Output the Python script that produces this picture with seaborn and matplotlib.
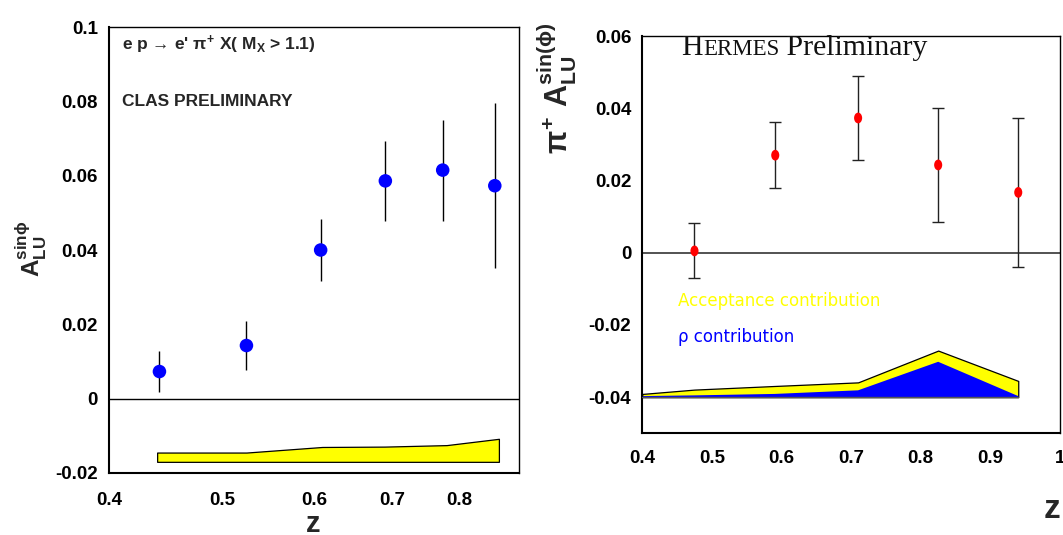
import numpy as np
import pandas as pd
import matplotlib
matplotlib.use("Agg")
import matplotlib.pyplot as plt
import seaborn as sns
from matplotlib.ticker import FixedLocator, MultipleLocator, NullLocator, NullFormatter
from matplotlib.path import Path
from matplotlib.transforms import Affine2D, offset_copy

# ---------------- data ----------------
# CLAS (left panel)
clas_z = [0.442, 0.525, 0.608, 0.691, 0.774, 0.858]
clas_a = [0.0073, 0.0143, 0.0400, 0.0586, 0.0615, 0.0573]
clas_err = [0.0055, 0.0067, 0.0084, 0.0107, 0.0136, 0.0222]
clas_sys_z = [0.44, 0.525, 0.61, 0.69, 0.78, 0.865]
clas_sys_top = [-0.0145, -0.0145, -0.0130, -0.0129, -0.0125, -0.0108]
clas_sys_bottom = -0.0170
clas_xticks = [0.4, 0.5, 0.6, 0.7, 0.8]
clas_xticklabels = ["0.4", "0.5", "0.6", "0.7", "0.8"]
clas_yticks = [-0.02, 0.0, 0.02, 0.04, 0.06, 0.08, 0.1]
clas_yticklabels = ["-0.02", "0", "0.02", "0.04", "0.06", "0.08", "0.1"]

# HERMES (right panel)
hermes_z = [0.475, 0.591, 0.710, 0.825, 0.940]
hermes_a = [0.0005, 0.0270, 0.0373, 0.0243, 0.0167]
hermes_err = [0.0076, 0.0091, 0.0116, 0.0159, 0.0206]
band_z = [0.40, 0.475, 0.59, 0.71, 0.825, 0.94]
rho_top = [-0.0397, -0.0395, -0.0391, -0.0381, -0.0302, -0.0397]
acc_top = [-0.0391, -0.0379, -0.0369, -0.0359, -0.0271, -0.0355]
band_base = -0.040
hermes_xticks = [0.4, 0.5, 0.6, 0.7, 0.8, 0.9, 1.0]
hermes_xticklabels = ["0.4", "0.5", "0.6", "0.7", "0.8", "0.9", "1"]
hermes_yticks = [-0.04, -0.02, 0.0, 0.02, 0.04, 0.06]
hermes_yticklabels = ["-0.04", "-0.02", "0", "0.02", "0.04", "0.06"]

# ---------------- style ----------------
sns.set_style("white")
plt.rcParams['font.family'] = ['Liberation Sans', 'DejaVu Sans']
plt.rcParams['font.weight'] = 'bold'
plt.rcParams['mathtext.fontset'] = 'custom'
plt.rcParams['mathtext.rm'] = 'Liberation Sans:bold'
plt.rcParams['mathtext.bf'] = 'Liberation Sans:bold'
plt.rcParams['mathtext.it'] = 'Liberation Sans:bold'
plt.rcParams['mathtext.sf'] = 'Liberation Sans:bold'

fig = plt.figure(figsize=(10.63, 5.35), dpi=100)
fig.patch.set_facecolor('white')

# ================= left panel (CLAS) =================
ax1 = fig.add_axes([0.1025, 0.1159, 0.3857, 0.8336])
ax1.set_facecolor('white')
ax1.set_xscale('log')
ax1.set_xlim(0.4, 0.9)
ax1.set_ylim(-0.02, 0.1)

ax1.fill_between(clas_sys_z, clas_sys_bottom, clas_sys_top,
                 facecolor='#ffff00', edgecolor='black', linewidth=0.9, zorder=2)
ax1.axhline(0, color='black', linewidth=1.0, zorder=1)
ax1.errorbar(clas_z, clas_a, yerr=clas_err, fmt='none', ecolor='black',
             elinewidth=1.0, capsize=0, zorder=3)
df1 = pd.DataFrame({"z": clas_z, "A": clas_a})
sns.scatterplot(data=df1, x="z", y="A", ax=ax1, color='#0000ff', s=95,
                edgecolor='none', linewidth=0, zorder=4, legend=False)
ax1.set_xlabel("")
ax1.set_ylabel("")

ax1.xaxis.set_major_locator(FixedLocator(clas_xticks))
ax1.xaxis.set_minor_locator(NullLocator())
ax1.xaxis.set_minor_formatter(NullFormatter())
ax1.set_xticklabels(clas_xticklabels)
ax1.set_yticks(clas_yticks)
ax1.set_yticklabels(clas_yticklabels)
ax1.yaxis.set_minor_locator(MultipleLocator(0.005))
ax1.tick_params(axis='both', which='both', direction='in', top=False, right=False,
                colors='black', labelsize=13.5)
ax1.tick_params(axis='y', which='major', length=6, width=1.0, pad=8)
ax1.tick_params(axis='y', which='minor', length=3.5, width=1.0)
ax1.tick_params(axis='x', which='major', length=3.5, width=1.0, pad=14)
for lab in ax1.get_xticklabels() + ax1.get_yticklabels():
    lab.set_fontweight('bold')
for sp in ax1.spines.values():
    sp.set_color('black')
    sp.set_linewidth(1.0)
ax1.spines['left'].set_linewidth(1.5)
ax1.spines['bottom'].set_linewidth(1.5)

ax1.text(0.032, 0.9596, "e p \u2192 e' $\\pi^{+}$ X( M$_{\\mathrm{X}}$ > 1.1)",
         transform=ax1.transAxes, ha='left', va='center', fontsize=12.5, fontweight='bold')
ax1.text(0.032, 0.834, "CLAS PRELIMINARY", transform=ax1.transAxes,
         ha='left', va='center', fontsize=12.5, fontweight='bold')

fig.text(31 / 1063, 1 - 249 / 535, r"$\mathrm{A}_{\mathrm{LU}}^{\mathrm{sin}\phi}$",
         rotation=90, ha='center', va='center', fontsize=17.5, fontweight='bold')
fig.text(313 / 1063, 1 - 524 / 535, "z", ha='center', va='center',
         fontsize=21, fontweight='bold')

# ================= right panel (HERMES) =================
ax2 = fig.add_axes([0.6042, 0.1901, 0.3930, 0.7426])
ax2.set_facecolor('white')
ax2.set_xlim(0.4, 1.0)
ax2.set_ylim(-0.05, 0.06)

ax2.fill_between(band_z, band_base, acc_top, facecolor='#ffff00',
                 edgecolor='black', linewidth=0.9, zorder=2)
ax2.fill_between(band_z, band_base, rho_top, facecolor='#0000ff',
                 edgecolor='none', linewidth=0, zorder=2.5)
ax2.plot([band_z[0], band_z[-1]], [band_base, band_base], color='#555555',
         linewidth=1.0, zorder=2.6)
ax2.axhline(0, color='#444444', linewidth=1.3, zorder=1)
ax2.errorbar(hermes_z, hermes_a, yerr=hermes_err, fmt='none', ecolor='#222222',
             elinewidth=1.0, capsize=4, capthick=1.0, zorder=3)
ellipse = Path.unit_circle().transformed(Affine2D().scale(0.75, 1.0))
df2 = pd.DataFrame({"z": hermes_z, "A": hermes_a})
sns.scatterplot(data=df2, x="z", y="A", ax=ax2, color='#ff0000', s=60,
                marker=ellipse, edgecolor='none', linewidth=0, zorder=4, legend=False)
ax2.set_xlabel("")
ax2.set_ylabel("")

ax2.set_xticks(hermes_xticks)
ax2.set_xticklabels(hermes_xticklabels)
ax2.xaxis.set_minor_locator(MultipleLocator(0.02))
ax2.set_yticks(hermes_yticks)
ax2.set_yticklabels(hermes_yticklabels)
ax2.yaxis.set_minor_locator(MultipleLocator(0.005))
ax2.tick_params(axis='both', which='both', direction='in', top=False, right=False,
                colors='black', labelsize=13.5)
ax2.tick_params(axis='y', which='major', length=6, width=1.0, pad=8)
ax2.tick_params(axis='y', which='minor', length=3.5, width=1.0)
ax2.tick_params(axis='x', which='major', length=7, width=1.0, pad=12)
ax2.tick_params(axis='x', which='minor', length=4, width=1.0)
for lab in ax2.get_xticklabels() + ax2.get_yticklabels():
    lab.set_fontweight('bold')
for sp in ax2.spines.values():
    sp.set_color('black')
    sp.set_linewidth(1.0)
ax2.spines['left'].set_linewidth(1.5)
ax2.spines['bottom'].set_linewidth(1.5)

# HERMES Preliminary (small caps emulation)
serif = ['Liberation Serif', 'DejaVu Serif']
t1 = ax2.text(0.094, 0.952, "H", transform=ax2.transAxes, ha='left', va='baseline',
              fontsize=21.5, family=serif, fontweight='normal', color='#111111')
renderer = fig.canvas.get_renderer()
w1 = t1.get_window_extent(renderer).width
t2 = ax2.text(0.094, 0.952, "ERMES", ha='left', va='baseline',
              transform=offset_copy(ax2.transAxes, fig=fig, x=w1, y=0, units='dots'),
              fontsize=16.5, family=serif, fontweight='normal', color='#111111')
w2 = t2.get_window_extent(renderer).width
ax2.text(0.094, 0.952, " Preliminary", ha='left', va='baseline',
         transform=offset_copy(ax2.transAxes, fig=fig, x=w1 + w2, y=0, units='dots'),
         fontsize=21.5, family=serif, fontweight='normal', color='#111111')

ax2.text(0.085, 0.334, "Acceptance contribution", transform=ax2.transAxes,
         ha='left', va='center', fontsize=12, color='#ffff00',
         family=['DejaVu Sans'], fontweight='normal')
ax2.text(0.085, 0.2416, "\u03c1 contribution", transform=ax2.transAxes,
         ha='left', va='center', fontsize=12, color='#0000ff',
         family=['DejaVu Sans'], fontweight='normal')

fig.text(557 / 1063, 1 - 88 / 535,
         r"$\pi^{+}\ \mathrm{A}_{\mathrm{LU}}^{\mathrm{sin(\phi)}}$",
         rotation=90, ha='center', va='center', fontsize=22, fontweight='bold')
fig.text(1052 / 1063, 1 - 509 / 535, "z", ha='center', va='center',
         fontsize=24, fontweight='bold')

fig.savefig("out.png", dpi=100, facecolor='white')
